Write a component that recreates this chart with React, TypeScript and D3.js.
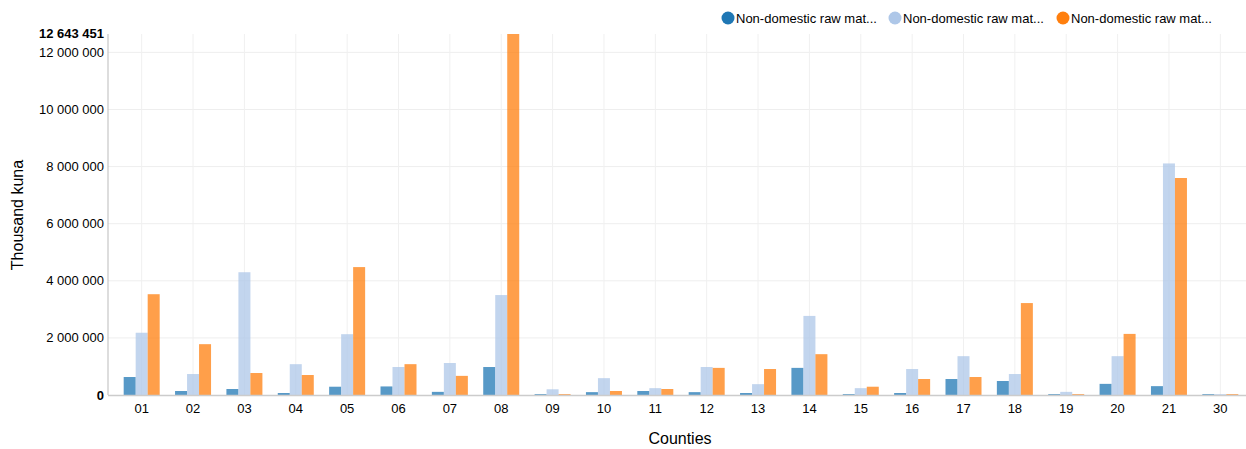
import React from "react";
import * as d3 from "d3";

const categories = ["01","02","03","04","05","06","07","08","09","10","11","12","13","14","15","16","17","18","19","20","21","30"];
const seriesNames = ["Non-domestic raw mat...", "Non-domestic raw mat...", "Non-domestic raw mat..."];
const seriesA = [630000,140000,210000,70000,290000,300000,110000,980000,30000,100000,140000,100000,70000,950000,30000,70000,560000,490000,30000,390000,310000,30000];
const seriesB = [2180000,735000,4300000,1080000,2130000,980000,1120000,3500000,200000,590000,240000,980000,380000,2770000,240000,910000,1360000,735000,110000,1360000,8110000,30000];
const seriesC = [3530000,1780000,770000,700000,4480000,1080000,670000,12643451,30000,140000,210000,950000,910000,1430000,290000,560000,630000,3220000,30000,2140000,7600000,30000];
const yTicks = [0, 2000000, 4000000, 6000000, 8000000, 10000000, 12000000];
const yMax = 12643451;
const colors = ["#1f77b4", "#aec7e8", "#ff7f0e"];

const W = 1246, H = 449;
const left = 108, right = 1246, top = 34, bottom = 395;
const bandStart = 116;

const fmt = (v: number) => d3.format(",")(v).replace(/,/g, " ");

export default function App() {
  const x = d3.scaleBand().domain(categories).range([bandStart, right]).paddingInner(0).paddingOuter(0);
  const y = d3.scaleLinear().domain([0, yMax]).range([bottom, top]);
  const barW = 12;
  const series = [seriesA, seriesB, seriesC];
  const font = "'Liberation Sans', Arial, sans-serif";
  const legendX = [728, 895, 1063];

  return (
    <svg width={W} height={H} style={{ position: "absolute", left: 0, top: 0, fontFamily: font }}>
      <rect width={W} height={H} fill="#fff" />
      {yTicks.slice(1).map((t) => (
        <line key={"hg" + t} x1={left} x2={right} y1={y(t)} y2={y(t)} stroke="#eeeeee" strokeWidth={1} />
      ))}
      {categories.map((c) => {
        const cx = (x(c) as number) + x.bandwidth() / 2;
        return <line key={"vg" + c} x1={cx} x2={cx} y1={top} y2={bottom} stroke="#f0f0f0" strokeWidth={1} />;
      })}
      {categories.map((c, i) => {
        const cx = (x(c) as number) + x.bandwidth() / 2;
        return series.map((s, k) => (
          <rect
            key={c + "-" + k}
            x={cx - 1.5 * barW + k * barW}
            y={y(s[i])}
            width={barW}
            height={bottom - y(s[i])}
            fill={colors[k]}
            fillOpacity={0.75}
          />
        ));
      })}
      <line x1={left} x2={left} y1={top} y2={bottom} stroke="#bbbbbb" strokeWidth={1} />
      <line x1={left} x2={right} y1={bottom + 0.5} y2={bottom + 0.5} stroke="#cccccc" strokeWidth={1.5} />
      {yTicks.map((t) => (
        <text key={"yt" + t} x={left - 4} y={y(t)} dy="0.35em" textAnchor="end" fontSize={13}
          fontWeight={t === 0 ? "bold" : "normal"} fill="#000">{fmt(t)}</text>
      ))}
      <text x={left - 4} y={y(yMax)} dy="0.3em" textAnchor="end" fontSize={13} fontWeight="bold" fill="#000">{fmt(yMax)}</text>
      {categories.map((c) => {
        const cx = (x(c) as number) + x.bandwidth() / 2;
        return <text key={"xt" + c} x={cx} y={413} textAnchor="middle" fontSize={13} fill="#000">{c}</text>;
      })}
      <text x={680} y={444} textAnchor="middle" fontSize={16} fill="#000">Counties</text>
      <text transform={`translate(23, 215) rotate(-90)`} textAnchor="middle" fontSize={16} fill="#000">Thousand kuna</text>
      {seriesNames.map((n, k) => (
        <g key={"lg" + k}>
          <circle cx={legendX[k]} cy={18} r={6.5} fill={colors[k]} />
          <text x={legendX[k] + 8} y={18} dy="0.35em" fontSize={13} fill="#000">{n}</text>
        </g>
      ))}
    </svg>
  );
}
